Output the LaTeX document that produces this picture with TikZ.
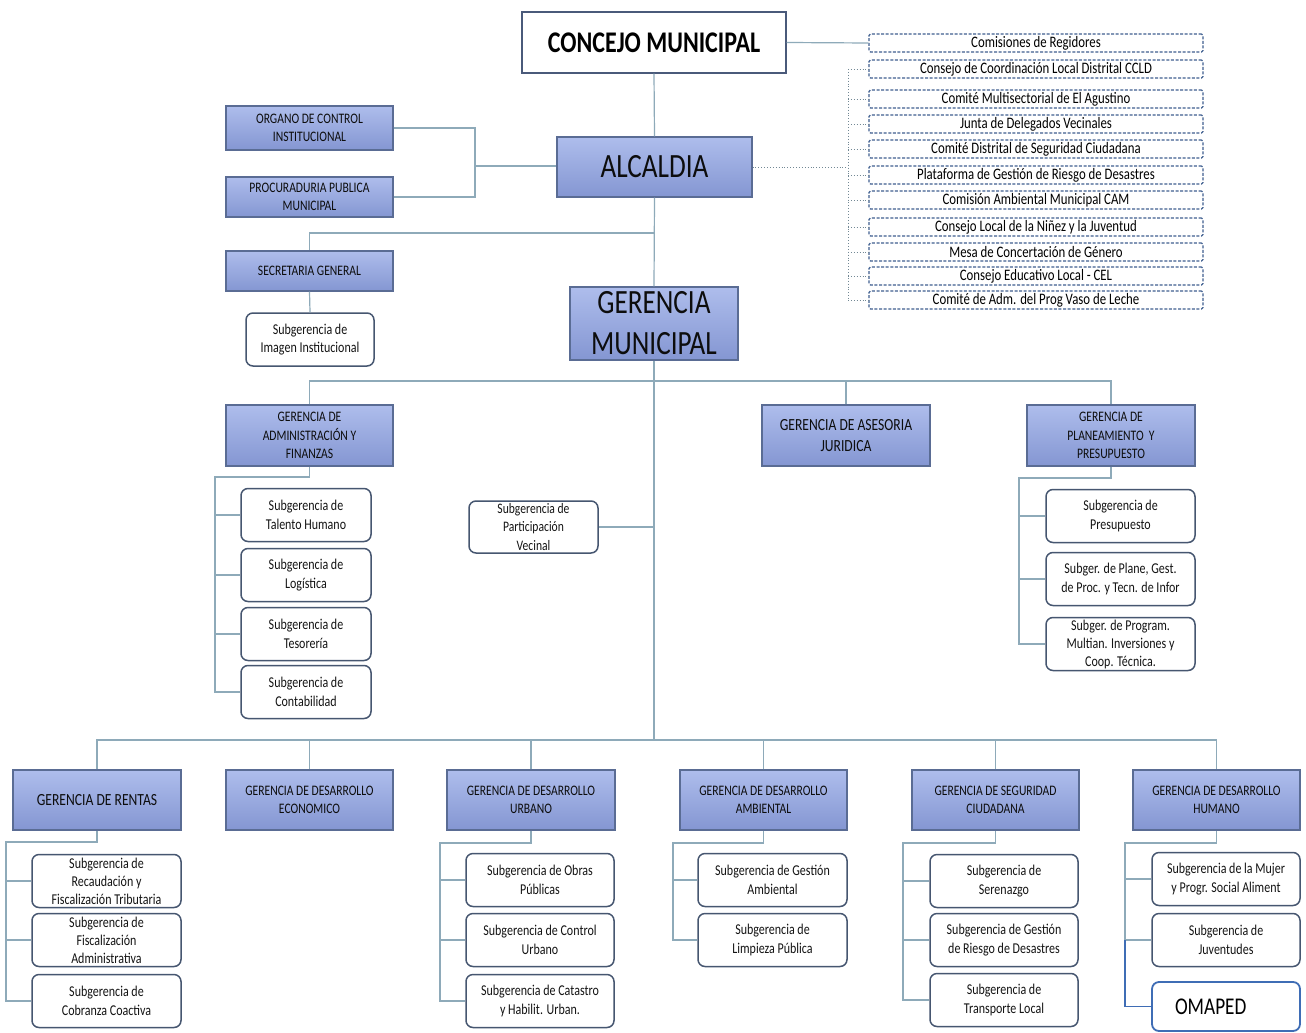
\documentclass[tikz,border=0pt]{standalone}
\usepackage{fontspec}
\setmainfont{Carlito}[FakeStretch=0.8]
\definecolor{btop}{HTML}{AEBDEC}
\definecolor{bbot}{HTML}{8496D2}
\definecolor{bdr}{HTML}{5A6C94}
\definecolor{sdr}{HTML}{465670}
\definecolor{lc}{HTML}{8EAAB9}
\definecolor{ddr}{HTML}{3F5F90}
\definecolor{om}{HTML}{3F6DB5}
\definecolor{cmdr}{HTML}{4A5A7A}
\newcommand\fz[2]{\fontsize{#1}{#2}\selectfont}
\begin{document}
\begin{tikzpicture}[x=1pt,y=-1pt,
 bluebox/.style={draw=bdr, line width=1.1pt, top color=btop, bottom color=bbot, align=center, inner sep=0pt, text=black!95, font=\fz{14.5}{18.5}},
 sbox/.style={draw=sdr, fill=white, rounded corners=7pt, line width=1.5pt, align=center, inner sep=0pt, minimum height=53pt, font=\fz{15}{18.5}, text=black!92},
 dbox/.style={draw=ddr, dash pattern=on 3pt off 1.6pt, line width=1.3pt, rounded corners=1.5pt, minimum width=334pt, minimum height=18pt, inner sep=0pt, font=\fz{16}{18}, text=black},
 conn/.style={draw=lc, line width=1.2pt},
 dconn/.style={draw=lc!80!black, line width=0.9pt, dotted},
 omline/.style={draw=om, line width=1.8pt}]
\fill[white] (0,0) rectangle (1306,1033);
\useasboundingbox (0,0) rectangle (1306,1033);

% top
\node[draw=cmdr, line width=1.4pt, fill=white, minimum width=264pt, minimum height=61pt, inner sep=0pt, font=\bfseries\fz{30}{34}] (cm) at (654,42.5) {CONCEJO MUNICIPAL};
\node[bluebox, minimum width=195pt, minimum height=60pt, font=\fz{34}{38}] (alc) at (654.5,167) {ALCALDIA};
\node[bluebox, minimum width=168pt, minimum height=73pt, font=\fz{34}{41}] (gm) at (654,323.5) {GERENCIA\\MUNICIPAL};

\node[bluebox, minimum width=167pt, minimum height=44pt, font=\fz{14.5}{18}] (oci) at (309.5,128) {ORGANO DE CONTROL\\INSTITUCIONAL};
\node[bluebox, minimum width=167pt, minimum height=40pt, font=\fz{14.5}{18}] (pro) at (309.5,197) {PROCURADURIA PUBLICA\\MUNICIPAL};
\node[bluebox, minimum width=167pt, minimum height=40pt] (sg) at (309.5,271) {SECRETARIA GENERAL};
\node[sbox, minimum width=128pt] (img) at (310,339.5) {Subgerencia de\\Imagen Institucional};

% dashed list
\node[dbox] (d1) at (1036,43) {Comisiones de Regidores};
\node[dbox] (d2) at (1036,69) {Consejo de Coordinación Local Distrital CCLD};
\node[dbox] (d3) at (1036,99) {Comité Multisectorial de El Agustino};
\node[dbox] (d4) at (1036,124) {Junta de Delegados Vecinales};
\node[dbox] (d5) at (1036,149) {Comité Distrital de Seguridad Ciudadana};
\node[dbox] (d6) at (1036,175) {Plataforma de Gestión de Riesgo de Desastres};
\node[dbox] (d7) at (1036,200) {Comisión Ambiental Municipal CAM};
\node[dbox] (d8) at (1036,227) {Consejo Local de la Niñez y la Juventud};
\node[dbox] (d9) at (1036,252) {Mesa de Concertación de Género};
\node[dbox] (d10) at (1036,276) {Consejo Educativo Local - CEL};
\node[dbox] (d11) at (1036,300) {Comité de Adm. del Prog Vaso de Leche};

% level 2
\node[bluebox, minimum width=167pt, minimum height=61pt] (gaf) at (309.5,435.5) {GERENCIA DE\\ADMINISTRACIÓN Y\\FINANZAS};
\node[bluebox, minimum width=168pt, minimum height=61pt, font=\fz{17}{21}] (aj) at (846,435.5) {GERENCIA DE ASESORIA\\JURIDICA};
\node[bluebox, minimum width=168pt, minimum height=61pt] (plan) at (1111,435.5) {GERENCIA DE\\PLANEAMIENTO\ \ Y\\PRESUPUESTO};

\node[sbox, minimum width=130pt] (th) at (306,515) {Subgerencia de\\Talento Humano};
\node[sbox, minimum width=130pt] (lo) at (306,575) {Subgerencia de\\Logística};
\node[sbox, minimum width=130pt] (te) at (306,634) {Subgerencia de\\Tesorería};
\node[sbox, minimum width=130pt] (co) at (306,692) {Subgerencia de\\Contabilidad};

\node[sbox, minimum width=129pt, minimum height=52pt, font=\fz{14.5}{18.5}] (pv) at (533.5,527) {Subgerencia de\\Participación\\Vecinal};

\node[sbox, minimum width=149pt] (pp) at (1120.5,516) {Subgerencia de\\Presupuesto};
\node[sbox, minimum width=149pt] (pg) at (1120.5,579) {Subger. de Plane, Gest.\\de Proc. y Tecn. de Infor};
\node[sbox, minimum width=149pt, font=\fz{15}{18}] (pm) at (1120.5,644) {Subger. de Program.\\Multian. Inversiones y\\Coop. Técnica.};

% level 3
\node[bluebox, minimum width=168pt, minimum height=60pt, font=\fz{17}{21}] (ren) at (97,800) {GERENCIA DE RENTAS};
\node[bluebox, minimum width=167pt, minimum height=60pt] (dec) at (309.5,800) {GERENCIA DE DESARROLLO\\ECONOMICO};
\node[bluebox, minimum width=168pt, minimum height=60pt] (urb) at (531,800) {GERENCIA DE DESARROLLO\\URBANO};
\node[bluebox, minimum width=167pt, minimum height=60pt] (amb) at (763.5,800) {GERENCIA DE DESARROLLO\\AMBIENTAL};
\node[bluebox, minimum width=167pt, minimum height=60pt] (seg) at (995.5,800) {GERENCIA DE SEGURIDAD\\CIUDADANA};
\node[bluebox, minimum width=167pt, minimum height=60pt] (hum) at (1216.5,800) {GERENCIA DE DESARROLLO\\HUMANO};

\node[sbox, minimum width=149pt, font=\fz{15}{18}] (r1) at (106.5,881) {Subgerencia de\\Recaudación y\\Fiscalización Tributaria};
\node[sbox, minimum width=149pt, font=\fz{15}{18}] (r2) at (106.5,940) {Subgerencia de\\Fiscalización\\Administrativa};
\node[sbox, minimum width=149pt] (r3) at (106.5,1001) {Subgerencia de\\Cobranza Coactiva};

\node[sbox, minimum width=148pt] (u1) at (540,880) {Subgerencia de Obras\\Públicas};
\node[sbox, minimum width=148pt] (u2) at (540,940) {Subgerencia de Control\\Urbano};
\node[sbox, minimum width=148pt] (u3) at (540,1001) {Subgerencia de Catastro\\y Habilit. Urban.};

\node[sbox, minimum width=149pt] (a1) at (772.5,880) {Subgerencia de Gestión\\Ambiental};
\node[sbox, minimum width=149pt] (a2) at (772.5,940) {Subgerencia de\\Limpieza Pública};

\node[sbox, minimum width=148pt] (s1) at (1004,881) {Subgerencia de\\Serenazgo};
\node[sbox, minimum width=148pt] (s2) at (1004,940) {Subgerencia de Gestión\\de Riesgo de Desastres};
\node[sbox, minimum width=148pt] (s3) at (1004,1000) {Subgerencia de\\Transporte Local};

\node[sbox, minimum width=148pt] (h1) at (1226,879) {Subgerencia de la Mujer\\y Progr. Social Aliment};
\node[sbox, minimum width=148pt] (h2) at (1226,940) {Subgerencia de\\Juventudes};
\node[draw=om, line width=1.8pt, fill=white, rounded corners=7pt, minimum height=49pt, inner ysep=0pt, inner xsep=23pt, text width=102pt, align=left, font=\fz{24}{28}, text=black] (h3) at (1226,1006.5) {OMAPED};

% connectors
\coordinate (j1) at (654,233);
\coordinate (j2) at (654,381);
\coordinate (j3) at (654,740);
\coordinate (jx) at (475,166);
\coordinate (dv) at (848,167);
\draw[conn] (cm.south) -- (alc.north);
\draw[conn] (alc.south) -- (gm.north);
\draw[conn] (gm.south) -- (j3);
\draw[conn] (cm.east) -- (d1.west);
\draw[conn] (oci.east) -| (jx) |- (pro.east);
\draw[conn] (jx) -- (jx -| alc.west);
\draw[conn] (j1) -| (sg.north);
\draw[conn] (sg.south) -- (img.north);
\draw[dconn] (alc.east) -- (dv);
\draw[dconn] (dv |- d2.west) -- (dv |- d11.west);
\foreach \n in {d2,d3,d4,d5,d6,d7,d8,d9,d10,d11} \draw[dconn] (dv |- \n.west) -- (\n.west);

\draw[conn] (gaf.north) |- (j2) -| (plan.north);
\draw[conn] (aj.north) -- (aj.north |- j2);
\draw[conn] (pv.east) -- (pv.east -| j3);

\coordinate (ga) at (215,477);
\draw[conn] (gaf.south) |- (ga) |- (co.west);
\foreach \k in {th,lo,te} \draw[conn] (ga |- \k.west) -- (\k.west);
\coordinate (pj) at (1019,478);
\draw[conn] (plan.south) |- (pj) |- (pm.west);
\foreach \k in {pp,pg} \draw[conn] (pj |- \k.west) -- (\k.west);

\draw[conn] (ren.north) |- (j3) -| (hum.north);
\foreach \n in {dec,urb,amb,seg} \draw[conn] (\n.north) -- (\n.north |- j3);

\coordinate (rj) at (6,842);
\draw[conn] (ren.south) |- (rj) |- (r3.west);
\foreach \k in {r1,r2} \draw[conn] (rj |- \k.west) -- (\k.west);
\coordinate (uj) at (440,843);
\draw[conn] (urb.south) |- (uj) |- (u3.west);
\foreach \k in {u1,u2} \draw[conn] (uj |- \k.west) -- (\k.west);
\coordinate (aj2) at (673,843);
\draw[conn] (amb.south) |- (aj2) |- (a2.west);
\draw[conn] (aj2 |- a1.west) -- (a1.west);
\coordinate (sj) at (903,843);
\draw[conn] (seg.south) |- (sj) |- (s3.west);
\foreach \k in {s1,s2} \draw[conn] (sj |- \k.west) -- (\k.west);
\coordinate (hj) at (1125,843);
\draw[conn] (hum.south) |- (hj) -- (hj |- h2.west);
\foreach \k in {h1,h2} \draw[conn] (hj |- \k.west) -- (\k.west);
\draw[omline] (hj |- h2.west) |- (h3.west);
\end{tikzpicture}
\end{document}
